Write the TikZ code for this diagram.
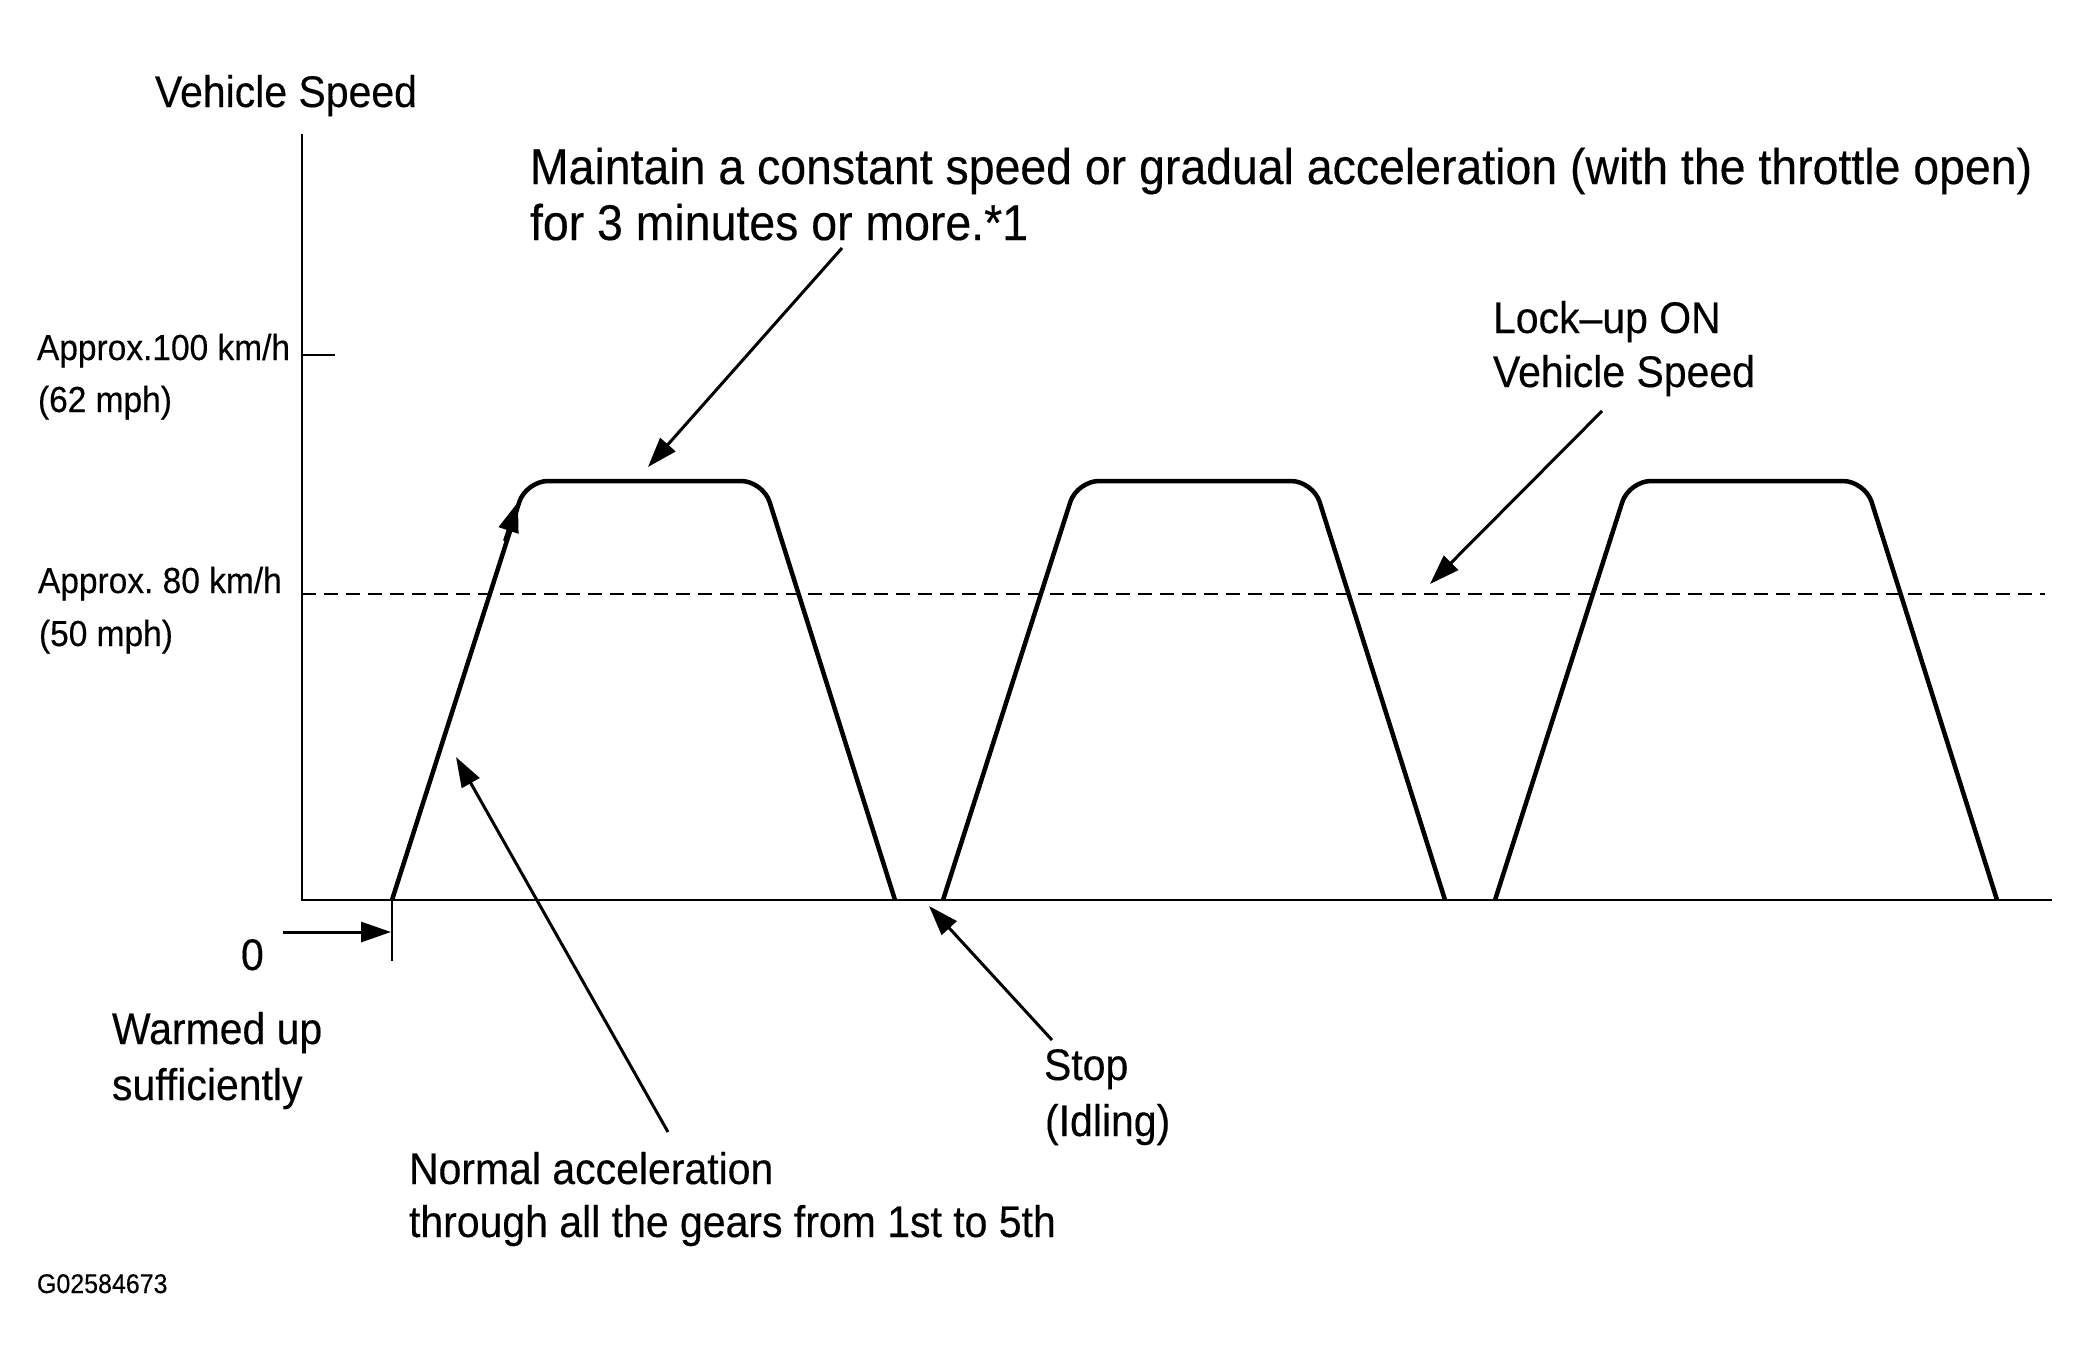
\documentclass[tikz,border=0pt]{standalone}
\usepackage{fontspec}
\setmainfont{Liberation Sans}[FakeStretch=0.925,FakeBold=0.3]
\usetikzlibrary{arrows.meta}
\frenchspacing
\begin{document}
\begin{tikzpicture}[x=1pt,y=-1pt,
  lbl/.style={anchor=base west,inner sep=0pt,outer sep=0pt},
  big/.style={lbl,font=\fontsize{50.2}{60}\selectfont},
  mid/.style={lbl,font=\fontsize{44.3}{54}\selectfont},
  small/.style={lbl,font=\fontsize{36.2}{44}\selectfont},
  tiny/.style={lbl,font=\fontsize{27}{32}\selectfont},
  axis/.style={line width=2.2pt},
  profile/.style={line width=4.5pt,rounded corners=22pt,line join=round},
  pointer/.style={line width=3pt,-{Triangle[length=30pt,width=20pt]}},
  lockline/.style={line width=1.8pt,dash pattern=on 14pt off 8pt},
]
\useasboundingbox (0,0) rectangle (2090,1369);

% axes
\coordinate (ytop) at (302,134);
\coordinate (orig) at (302,900);
\coordinate (xend) at (2052,900);
\draw[axis] (ytop) -- (orig) -- (xend);
\coordinate (t1a) at (302,355);
\coordinate (t1b) at (335,355);
\draw[axis] (t1a) -- (t1b);
\coordinate (d1) at (302,594);
\coordinate (d2) at (2045,594);
\draw[lockline] (d1) -- (d2);

% speed profile
\coordinate (p1a) at (392,900);  \coordinate (p1b) at (526,481);
\coordinate (p1c) at (763,481);  \coordinate (p1d) at (895,900);
\coordinate (p2a) at (943,900);  \coordinate (p2b) at (1077,481);
\coordinate (p2c) at (1313,481); \coordinate (p2d) at (1445,900);
\coordinate (p3a) at (1495,900); \coordinate (p3b) at (1629,481);
\coordinate (p3c) at (1865,481); \coordinate (p3d) at (1997,900);
\draw[profile] (p1a) -- (p1b) -- (p1c) -- (p1d);
\draw[profile] (p2a) -- (p2b) -- (p2c) -- (p2d);
\draw[profile] (p3a) -- (p3b) -- (p3c) -- (p3d);

% arrow on rising edge
\coordinate (ra) at (505,541);
\coordinate (rb) at (518,502);
\draw[line width=4pt,-{Triangle[length=30pt,width=20pt]}] (ra) -- (rb);

% start marker
\coordinate (s0a) at (392,900);
\coordinate (s0b) at (392,961);
\draw[axis] (s0a) -- (s0b);
\coordinate (za) at (283,932);
\coordinate (zb) at (391,932);
\draw[pointer] (za) -- (zb);

% labels
\node[mid] (vs) at (155,107) {Vehicle Speed};
\node[big] (m1) at (530,184) {Maintain a constant speed or gradual acceleration (with the throttle open)};
\node[big] (m2) at (530,240) {for 3 minutes or more.*1};
\node[small] (a100) at (37,360) {Approx.100 km/h};
\node[small] (m62) at (38,412) {(62 mph)};
\node[small] (a80) at (38,593) {Approx. 80 km/h};
\node[small] (m50) at (39,646) {(50 mph)};
\node[mid] (lu1) at (1493,333) {Lock–up ON};
\node[mid] (lu2) at (1493,387) {Vehicle Speed};
\node[mid] (zero) at (241,970) {0};
\node[mid] (w1) at (112,1044) {Warmed up};
\node[mid] (w2) at (112,1100) {sufficiently};
\node[mid] (st1) at (1044,1080) {Stop};
\node[mid] (st2) at (1045,1136) {(Idling)};
\node[mid] (n1) at (409,1184) {Normal acceleration};
\node[mid] (n2) at (409,1237) {through all the gears from 1st to 5th};
\node[tiny] (gid) at (37,1293) {G02584673};

% pointers
\coordinate (ma) at (842,248);
\coordinate (mb) at (648,467);
\draw[pointer] (ma) -- (mb);
\coordinate (la) at (1602,411);
\coordinate (lb) at (1430,584);
\draw[pointer] (la) -- (lb);
\coordinate (na) at (668,1132);
\coordinate (nb) at (456,757);
\draw[pointer] (na) -- (nb);
\coordinate (sa) at (1052,1040);
\coordinate (sb) at (929,906);
\draw[pointer] (sa) -- (sb);
\end{tikzpicture}
\end{document}
